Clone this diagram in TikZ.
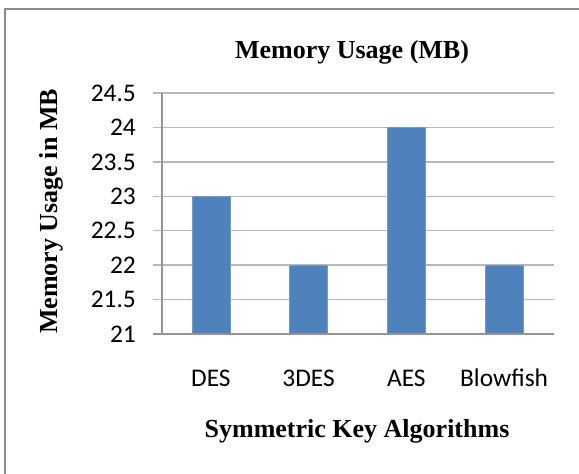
\documentclass[tikz,border=0pt]{standalone}
\usepackage{fontspec}
\setmainfont{Liberation Serif}
\newfontfamily\calib{Carlito}
\definecolor{barblue}{HTML}{4F81BD}
\definecolor{gridgray}{gray}{0.72}
\definecolor{axisgray}{gray}{0.58}
\definecolor{framegray}{gray}{0.55}
\tikzset{
  titletext/.style={font=\fontsize{26}{30}\selectfont\bfseries, inner sep=0pt},
  ticktext/.style={font=\calib\fontsize{25.4}{30}\selectfont, inner sep=0pt, anchor=east},
  cattext/.style={font=\calib\fontsize{25.4}{30}\selectfont, inner sep=0pt, anchor=base},
  gridline/.style={draw=gridgray, line width=1.4pt},
  axisline/.style={draw=axisgray, line width=1.4pt},
  bar/.style={fill=barblue, draw=barblue!80!white, line width=0.6pt},
}
\begin{document}
\begin{tikzpicture}[x=1pt, y=-1pt]
  \useasboundingbox (0,0) rectangle (579,474);
  \fill[white] (0,0) rectangle (579,474);
  % outer frame (top and left edges)
  \draw[framegray, line width=2pt] (5,474) -- (5,8.5) -- (579,8.5);

  % plot area: value 21 at y=334, 24.5 at y=93
  \def\yzero{334}
  \def\yunit{68.857}
  \def\xzero{162}
  \def\xcat{97.75}

  % horizontal grid lines and tick labels
  \foreach \v/\lab [count=\k] in {21.5/21.5, 22/22, 22.5/22.5, 23/23, 23.5/23.5, 24/24, 24.5/24.5}{
    \draw[gridline] (153,{\yzero-(\v-21)*\yunit}) -- (554,{\yzero-(\v-21)*\yunit});
    \node[ticktext] (tick\k) at (136,{\yzero-(\v-21)*\yunit}) {\lab};
  }
  \node[ticktext] (tick0) at (136,\yzero) {21};

  % bars
  \foreach \val/\name [count=\i from 0] in {23/DES, 22/3DES, 24/AES, 22/Blowfish}{
    \path[bar] ({\xzero+\xcat*(\i+0.5)-19},\yzero) rectangle ({\xzero+\xcat*(\i+0.5)+19},{\yzero-(\val-21)*\yunit});
    \node[cattext] (cat\i) at ({\xzero+\xcat*(\i+0.5)},386) {\name};
  }

  % axes
  \draw[axisline] (\xzero,93) -- (\xzero,\yzero);
  \draw[axisline] (153,\yzero) -- (554,\yzero);

  % titles
  \node[titletext, anchor=base] (title) at (352,58) {Memory Usage (MB)};
  \node[titletext, anchor=base] (xtitle) at (357,437) {Symmetric Key Algorithms};
  \node[titletext, rotate=90, anchor=base] (ytitle) at (57,211.5) {Memory Usage in MB};
\end{tikzpicture}
\end{document}
